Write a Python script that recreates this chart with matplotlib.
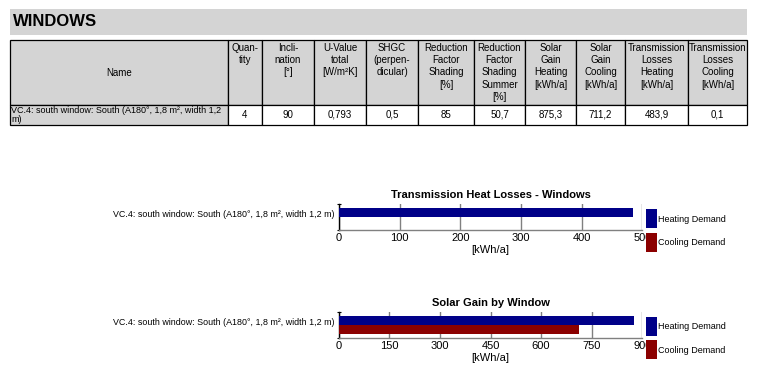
import matplotlib
matplotlib.use("Agg")
import matplotlib.pyplot as plt
from matplotlib.patches import Rectangle
from matplotlib.transforms import ScaledTranslation

plt.rcParams['font.family'] = ['Liberation Sans', 'DejaVu Sans']

# ---------------- data ----------------
section_title = "WINDOWS"
table_headers = [
    ["Name"],
    ["Quan-", "tity"],
    ["Incli-", "nation", "[°]"],
    ["U-Value", "total", "[W/m²K]"],
    ["SHGC", "(perpen-", "dicular)"],
    ["Reduction", "Factor", "Shading", "[%]"],
    ["Reduction", "Factor", "Shading", "Summer", "[%]"],
    ["Solar", "Gain", "Heating", "[kWh/a]"],
    ["Solar", "Gain", "Cooling", "[kWh/a]"],
    ["Transmission", "Losses", "Heating", "[kWh/a]"],
    ["Transmission", "Losses", "Cooling", "[kWh/a]"],
]
row_name_lines = ["VC.4: south window: South (A180°, 1,8 m², width 1,2", "m)"]
row_values = ["4", "90", "0,793", "0,5", "85", "50,7", "875,3", "711,2", "483,9", "0,1"]

window_names = ["VC.4: south window: South (A180°, 1,8 m², width 1,2 m)"]
series_labels = ["Heating Demand", "Cooling Demand"]
trans_heating = [483.9]
trans_cooling = [0.1]
solar_heating = [875.3]
solar_cooling = [711.2]
chart1_title = "Transmission Heat Losses - Windows"
chart2_title = "Solar Gain by Window"
chart1_ticks = [0, 100, 200, 300, 400, 500]
chart2_ticks = [0, 150, 300, 450, 600, 750, 900]
x_unit = "[kWh/a]"

# ---------------- layout helpers ----------------
W, H = 775, 375
fig = plt.figure(figsize=(W / 100, H / 100), dpi=100)

def fx(x):
    return x / W

def fy(y):
    return 1 - y / H

GRAY = "#d4d4d4"
NAVY = "#000088"
DRED = "#8b0000"
GRID = "#808080"

def rect(x0, y0, x1, y1, fc, ec="none", lw=0.0, z=1):
    fig.patches.append(Rectangle((fx(x0), fy(y1)), fx(x1) - fx(x0), fy(y0) - fy(y1),
                                 transform=fig.transFigure, facecolor=fc,
                                 edgecolor=ec, linewidth=lw, zorder=z))

# title bar
rect(10, 9, 747, 34.5, GRAY)
fig.text(fx(13), fy(21.5), section_title, fontsize=12, fontweight="bold",
         ha="left", va="center")

# table
cols = [10, 228, 262, 314, 366, 418, 474, 525, 576, 625, 688, 747]
y_top, y_mid, y_bot = 40, 105, 124.5
LW = 0.9
for i in range(len(cols) - 1):
    rect(cols[i], y_top, cols[i + 1], y_mid, GRAY, "black", LW)
    rect(cols[i], y_mid, cols[i + 1], y_bot, GRAY if i == 0 else "white", "black", LW)

FS = 7
for i, lines in enumerate(table_headers):
    cx = (cols[i] + cols[i + 1]) / 2
    if i == 0:
        fig.text(fx(cx), fy(72.5), lines[0], fontsize=FS, ha="center", va="center")
    else:
        for j, ln in enumerate(lines):
            fig.text(fx(cx), fy(47.7 + j * 12.3), ln, fontsize=FS,
                     ha="center", va="center")

for j, ln in enumerate(row_name_lines):
    fig.text(fx(11), fy(110.3 + j * 9.4), ln, fontsize=6.5, ha="left", va="center")
for i, v in enumerate(row_values):
    cx = (cols[i + 1] + cols[i + 2]) / 2
    fig.text(fx(cx), fy(114.5), v, fontsize=FS, ha="center", va="center")

# ---------------- charts ----------------
def make_chart(x0, x1, y0, y1, heat, cool, ticks, title, leg_top):
    ax = fig.add_axes([fx(x0), fy(y1), fx(x1) - fx(x0), fy(y0) - fy(y1)])
    ypos = list(range(len(window_names)))
    h = 0.35
    ax.barh([p + h / 2 for p in ypos], heat, height=h, color=NAVY, zorder=3)
    ax.barh([p - h / 2 for p in ypos], cool, height=h, color=DRED, zorder=3)
    ax.set_xlim(ticks[0], ticks[-1])
    ax.set_ylim(-0.5, len(window_names) - 0.5)
    ax.set_xticks(ticks)
    ax.set_xticklabels([str(t) for t in ticks], fontsize=8)
    ax.set_yticks(ypos)
    ax.set_yticklabels(window_names, fontsize=6.4)
    ax.set_yticks([-0.5, len(window_names) - 0.5], minor=True)
    ax.tick_params(axis="y", which="major", length=0, pad=3)
    ax.tick_params(axis="y", which="minor", length=3, direction="inout", width=0.8)
    ax.tick_params(axis="x", length=0, pad=2.5)
    for lab in ax.get_yticklabels():
        lab.set_transform(lab.get_transform() +
                          ScaledTranslation(0, 3.5 / 100, fig.dpi_scale_trans))
    ax.grid(axis="x", color=GRID, linewidth=1.0, zorder=1)
    for s in ["top", "right"]:
        ax.spines[s].set_visible(False)
    ax.spines["bottom"].set_color(GRID)
    ax.spines["bottom"].set_linewidth(1.0)
    ax.spines["left"].set_color("black")
    ax.spines["left"].set_linewidth(1.0)
    ax.set_title(title, fontsize=8, fontweight="bold", pad=4.5)
    ax.set_xlabel(x_unit, fontsize=8, labelpad=1)
    # legend (drawn at figure level, overlapping the last tick label like the original)
    for k, (lab, col) in enumerate(zip(series_labels, [NAVY, DRED])):
        top = leg_top + k * 23.7
        rect(646, top, 657, top + 19, col, z=10)
        fig.text(fx(658), fy(top + 10), lab, fontsize=6.5, ha="left",
                 va="center", zorder=11)
    return ax

make_chart(339, 642.4, 204, 230, trans_heating, trans_cooling, chart1_ticks,
           chart1_title, 209)
make_chart(338.7, 642.3, 312.3, 337.7, solar_heating, solar_cooling, chart2_ticks,
           chart2_title, 316.7)

fig.savefig("out.png", dpi=100)
